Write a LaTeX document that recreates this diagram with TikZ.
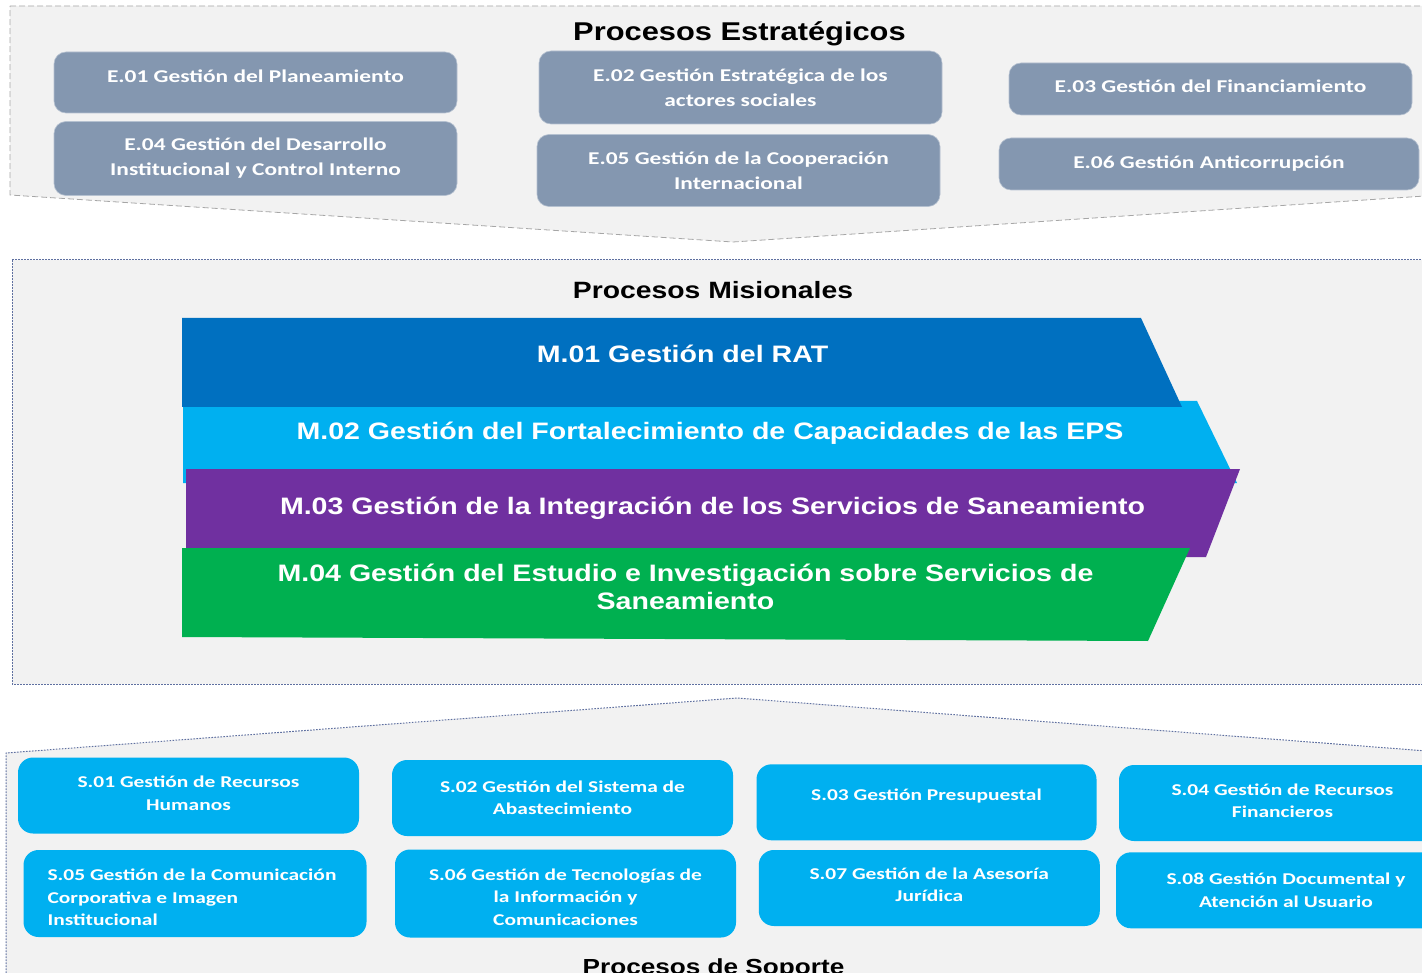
\documentclass[tikz,border=0pt]{standalone}
\usepackage{fontspec}
\setmainfont{Carlito}[FakeStretch=1.3]
\newfontfamily\arialfont{Liberation Sans}[FakeStretch=1.2]

\definecolor{panelgray}{HTML}{F2F2F2}
\definecolor{egray}{HTML}{8497B0}
\definecolor{sblue}{HTML}{00B0F0}
\definecolor{mdark}{HTML}{0070C0}
\definecolor{mpurple}{HTML}{7030A0}
\definecolor{mgreen}{HTML}{00B050}
\definecolor{dotline}{HTML}{5F70A0}

\tikzset{
  ebox/.style={rounded corners=12pt, fill=egray, draw=egray!60!white, line width=0.6pt,
    text=white, align=center, inner sep=0pt, font=\bfseries\fontsize{18}{25}\selectfont},
  sbox/.style={rounded corners=15pt, fill=sblue, text=white, align=center,
    inner sep=0pt, font=\bfseries\fontsize{16.5}{22.5}\selectfont},
  btext/.style={text=white, inner sep=0pt},
  band/.style={text=white, align=center, font=\arialfont\bfseries\fontsize{23.8}{28.3}\selectfont},
  title/.style={anchor=base, text=black, font=\arialfont\bfseries}
}

\begin{document}
\begin{tikzpicture}[x=1pt,y=-1pt]
    \useasboundingbox (0,0) rectangle (1422,973);
    \clip (0,0) rectangle (1422,973);

    % Draw the three panels
    \draw[fill=panelgray, draw=gray!70, dash pattern=on 6pt off 3pt, line width=0.8pt]
        (10,6) -- (1440,6) -- (1440,195) -- (733,242) -- (10,195) -- cycle;
    \draw[fill=panelgray, draw=dotline, dash pattern=on 1.6pt off 1.4pt, line width=1pt]
        (12,260) rectangle (1440,684);
    \draw[fill=panelgray, draw=dotline, dash pattern=on 1.6pt off 1.4pt, line width=1pt]
        (6,1000) -- (6,753) -- (737,698) -- (1440,752) -- (1440,1000);

    % Titles
    \node[title, font=\arialfont\bfseries\fontsize{25.7}{30}\selectfont] (tstrat) at (739.5,40.7) {Procesos Estratégicos};
    \node[title, font=\arialfont\bfseries\fontsize{23.6}{28}\selectfont] (tmis) at (713,298.3) {Procesos Misionales};
    \node[title, font=\arialfont\bfseries\fontsize{21.8}{26}\selectfont] (tsop) at (713.5,974) {Procesos de Soporte};

    % Strategic processes
    \node[ebox, minimum width=403, minimum height=61] (e01) at (255.5,82.5) {};
    \node[btext, font=\bfseries\fontsize{18}{25}\selectfont] (e01t) at ([yshift=6pt]e01.center) {E.01 Gestión del Planeamiento};
    \node[ebox, minimum width=403, minimum height=73] (e02) at (740.5,87.5) {E.02 Gestión Estratégica de los\\actores sociales};
    \node[ebox, minimum width=403, minimum height=52] (e03) at (1210.5,89) {};
    \node[btext, font=\bfseries\fontsize{18}{25}\selectfont] (e03t) at ([yshift=3pt]e03.center) {E.03 Gestión del Financiamiento};
    \node[ebox, minimum width=403, minimum height=74] (e04) at (255.5,158.5) {E.04 Gestión del Desarrollo\\Institucional y Control Interno};
    \node[ebox, minimum width=403, minimum height=72] (e05) at (738.5,170.5) {E.05 Gestión de la Cooperación\\Internacional};
    \node[ebox, minimum width=420, minimum height=52] (e06) at (1209,164) {E.06 Gestión Anticorrupción};

    % Mission bands (light blue under dark blue, green on top)
    \fill[sblue] (183,401) -- (1197,401) -- (1237,483) -- (183,483) -- cycle;
    \fill[mdark] (182,318) -- (1141,318) -- (1182,407) -- (182,407) -- cycle;
    \fill[mpurple] (186,469) -- (1240,469) -- (1206,557) -- (186,557) -- cycle;
    \fill[mgreen] (182,548) -- (1190,548) -- (1148,641) -- (182,637) -- cycle;

    \node[band, anchor=base] (m01) at (682.5,362.3) {M.01 Gestión del RAT};
    \node[band, anchor=base] (m02) at (710,439.3) {M.02 Gestión del Fortalecimiento de Capacidades de las EPS};
    \node[band, anchor=base] (m03) at (712.5,514.3) {M.03 Gestión de la Integración de los Servicios de Saneamiento};
    \node[band] (m04) at (685.5,587) {M.04 Gestión del Estudio e Investigación sobre Servicios de\\Saneamiento};

    % Support processes
    \node[sbox, minimum width=341, minimum height=76] (s01) at (188.5,795.5) {};
    \node[btext, align=center, font=\bfseries\fontsize{16.5}{22.5}\selectfont] (s01t) at ([yshift=2pt]s01.center) {S.01 Gestión de Recursos\\Humanos};
    \node[sbox, minimum width=341, minimum height=76] (s02) at (562.5,798) {S.02 Gestión del Sistema de\\Abastecimiento};
    \node[sbox, minimum width=340, minimum height=76] (s03) at (926.5,802.3) {};
    \node[btext, font=\bfseries\fontsize{16.5}{22.5}\selectfont] (s03t) at ([yshift=6pt]s03.center) {S.03 Gestión Presupuestal};
    \node[sbox, minimum width=327, minimum height=76] (s04) at (1282.5,803) {};
    \node[btext, align=center, font=\bfseries\fontsize{16.5}{22.5}\selectfont] (s04t) at ([yshift=2pt]s04.center) {S.04 Gestión de Recursos\\Financieros};
    \node[sbox, minimum width=343, minimum height=87] (s05) at (195,893.5) {};
    \node[btext, align=left, font=\bfseries\fontsize{16.5}{22.5}\selectfont] (s05t) at ([xshift=-3pt, yshift=-4pt]s05.center) {S.05 Gestión de la Comunicación\\Corporativa e Imagen\\Institucional};
    \node[sbox, minimum width=341, minimum height=88] (s06) at (565.5,893.5) {};
    \node[btext, align=center, font=\bfseries\fontsize{16.5}{22.5}\selectfont] (s06t) at ([yshift=-3.5pt]s06.center) {S.06 Gestión de Tecnologías de\\la Información y\\Comunicaciones};
    \node[sbox, minimum width=341, minimum height=76] (s07) at (929.3,888) {};
    \node[btext, align=center, font=\bfseries\fontsize{16.5}{22.5}\selectfont] (s07t) at ([yshift=3pt]s07.center) {S.07 Gestión de la Asesoría\\Jurídica};
    \node[sbox, minimum width=340, minimum height=76] (s08) at (1286,890.3) {S.08 Gestión Documental y\\Atención al Usuario};
\end{tikzpicture}
\end{document}
